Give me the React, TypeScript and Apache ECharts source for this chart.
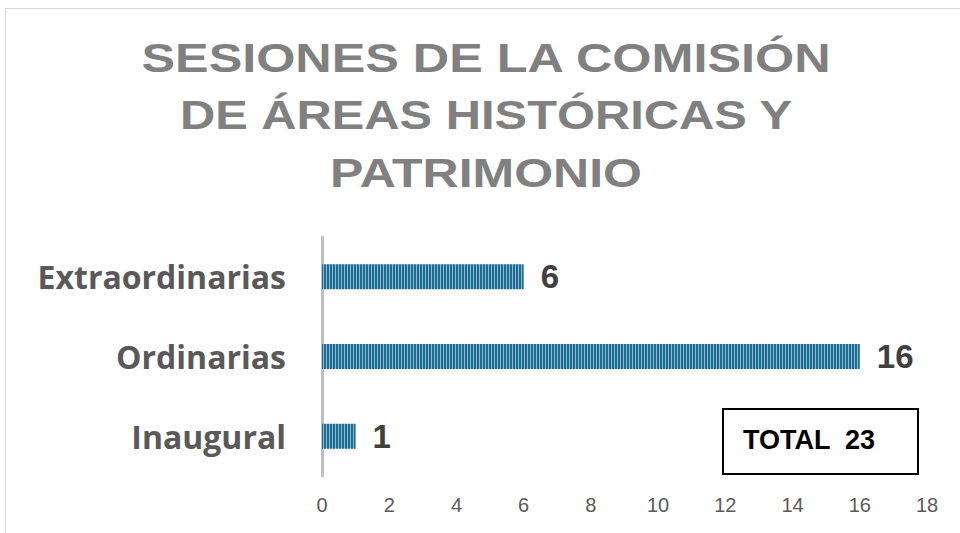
import React, { useEffect, useRef } from "react";
import * as echarts from "echarts";

const categories = ["Inaugural", "Ordinarias", "Extraordinarias"];
const values = [1, 16, 6];
const xTicks = { min: 0, max: 18, interval: 2 };
const titleLines = ["SESIONES DE LA COMISIÓN", "DE ÁREAS HISTÓRICAS Y", "PATRIMONIO"];
const totalLabel = "TOTAL  23";

export default function App() {
  const ref = useRef<HTMLDivElement>(null);

  useEffect(() => {
    if (!ref.current) return;
    const chart = echarts.init(ref.current, undefined, { renderer: "svg" });

    // stripe pattern
    const pc = document.createElement("canvas");
    pc.width = 3;
    pc.height = 4;
    const pctx = pc.getContext("2d")!;
    pctx.fillStyle = "#1f6a8e";
    pctx.fillRect(0, 0, 3, 4);
    pctx.fillStyle = "#86bdd6";
    pctx.fillRect(2, 0, 1, 4);

    // measure title lines to emulate letter spacing
    const mc = document.createElement("canvas").getContext("2d")!;
    const titleFont = "bold 41px 'Liberation Sans'";
    mc.font = titleFont;
    const targetWidths = [691, 613, 312];
    const titleY = [58, 115, 173];
    const titleEls = titleLines.map((t, i) => {
      const w = mc.measureText(t).width || 1;
      return {
        type: "text",
        x: 486,
        y: titleY[i],
        scaleX: targetWidths[i] / w,
        style: {
          text: t,
          fill: "#808080",
          font: titleFont,
          textAlign: "center",
          textVerticalAlign: "middle",
        },
        z: 10,
      };
    });

    chart.setOption({
      animation: false,
      backgroundColor: "#ffffff",
      grid: { left: 322, right: 33, top: 237, bottom: 57, containLabel: false },
      xAxis: {
        type: "value",
        min: xTicks.min,
        max: xTicks.max,
        interval: xTicks.interval,
        splitLine: { show: false },
        axisLine: { show: false },
        axisTick: { show: false },
        axisLabel: {
          color: "#595959",
          fontSize: 20,
          fontFamily: "Liberation Sans",
          margin: 19,
        },
      },
      yAxis: {
        type: "category",
        data: categories,
        axisLine: { show: true, lineStyle: { color: "#bfbfbf", width: 3 } },
        axisTick: { show: false },
        axisLabel: {
          color: "#595959",
          fontSize: 32,
          fontWeight: "bold",
          fontFamily: "'Open Sans'",
          margin: 36,
        },
      },
      series: [
        {
          type: "bar",
          data: values,
          barWidth: 25,
          itemStyle: {
            color: { image: pc, repeat: "repeat", imageWidth: 3, imageHeight: 4 } as any,
          },
          label: {
            show: true,
            position: "right",
            distance: 17,
            fontSize: 33,
            fontWeight: "bold",
            fontFamily: "Liberation Sans",
            color: "#404040",
          },
        },
      ],
      graphic: [
        {
          type: "rect",
          shape: { x: 5.5, y: 8.5, width: 1200, height: 1200 },
          style: { fill: "none", stroke: "#d9d9d9", lineWidth: 1 },
          z: -1,
          silent: true,
        },
        ...titleEls,
        {
          type: "rect",
          shape: { x: 723, y: 409, width: 195, height: 65 },
          style: { fill: "#ffffff", stroke: "#000000", lineWidth: 2 },
          z: 10,
        },
        {
          type: "text",
          x: 743,
          y: 440,
          style: {
            text: totalLabel,
            fill: "#000000",
            font: "bold 27px 'Liberation Sans'",
            textAlign: "left",
            textVerticalAlign: "middle",
          },
          z: 11,
        },
      ],
    } as any);

    return () => chart.dispose();
  }, []);

  return (
    <div
      ref={ref}
      style={{ position: "fixed", left: 0, top: 0, width: 960, height: 533 }}
    />
  );
}
